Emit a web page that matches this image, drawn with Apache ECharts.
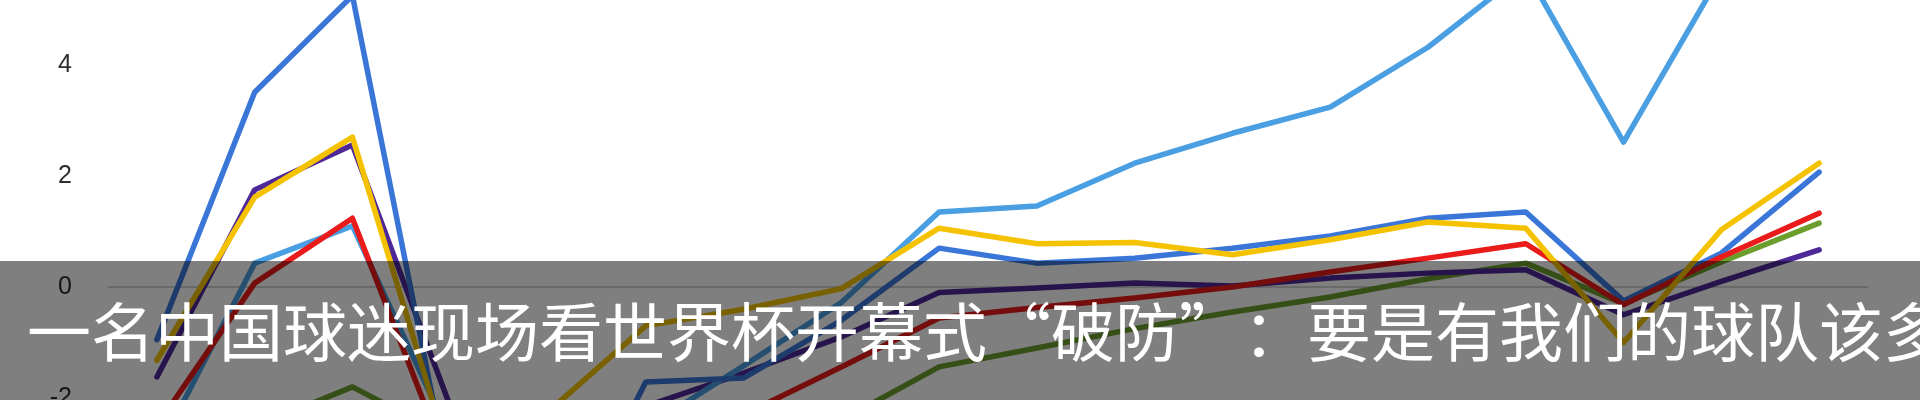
<!DOCTYPE html>
<html>
<head>
<meta charset="utf-8">
<script src="https://cdn.jsdelivr.net/npm/echarts@6/dist/echarts.min.js"></script>
<style>
html,body{margin:0;padding:0;background:#fff;}
#chart{width:1920px;height:400px;}
</style>
</head>
<body>
<div id="chart"></div>
<script>
const categories = ['1','2','3','4','5','6','7','8','9','10','11','12','13','14','15','16','17','18'];
const yTicks = [-6, -4, -2, 0, 2, 4, 6];

const royalBlue = [-0.95, 3.51, 5.25, -3.6, -5.2, -1.71, -1.64, -0.6, 0.70, 0.43, 0.52, 0.70, 0.92, 1.24, 1.35, -0.25, 0.61, 2.07];
const skyBlue   = [-3.0, 0.43, 1.1, -2.7, -3.0, -2.54, -1.42, -0.28, 1.35, 1.46, 2.23, 2.77, 3.24, 4.32, 5.7, 2.61, 5.65, 6.5];
const gold      = [-1.32, 1.62, 2.70, -3.1, -2.25, -0.7, -0.4, -0.03, 1.06, 0.78, 0.80, 0.58, 0.85, 1.17, 1.06, -1.0, 1.03, 2.23];
const red       = [-2.5, 0.07, 1.24, -3.3, -3.3, -2.8, -2.3, -1.44, -0.56, -0.37, -0.2, 0.0, 0.27, 0.52, 0.78, -0.32, 0.54, 1.33];
const green     = [-3.4, -2.52, -1.8, -2.72, -3.3, -3.2, -2.9, -2.4, -1.44, -1.1, -0.75, -0.45, -0.18, 0.15, 0.43, -0.3, 0.45, 1.15];
const purple    = [-1.62, 1.75, 2.56, -2.15, -2.6, -2.15, -1.55, -0.9, -0.1, -0.02, 0.07, 0.02, 0.16, 0.25, 0.31, -0.5, 0.1, 0.67];

const caption = '一名中国球迷现场看世界杯开幕式“破防”：要是有我们的球队该多好';

function mk(name, data, color) {
  return {
    name: name, type: 'line', data: data, symbol: 'none',
    lineStyle: { color: color, width: 5.5, join: 'round', cap: 'round' },
    itemStyle: { color: color }
  };
}

const chart = echarts.init(document.getElementById('chart'), null, { renderer: 'canvas' });
chart.setOption({
  backgroundColor: '#ffffff',
  animation: false,
  grid: { left: 108, right: 52, top: -46, bottom: -220, containLabel: false, outerBoundsMode: 'none' },
  xAxis: {
    type: 'category', data: categories, boundaryGap: true,
    axisLine: { onZero: true, lineStyle: { color: '#c4c4c4', width: 1.5 } },
    axisTick: { show: false }, axisLabel: { show: false }, splitLine: { show: false }
  },
  yAxis: {
    type: 'value', min: yTicks[0], max: yTicks[yTicks.length - 1], interval: 2,
    axisLine: { show: false }, axisTick: { show: false }, splitLine: { show: false },
    axisLabel: { color: '#2e2e2e', fontSize: 25, fontFamily: 'Liberation Sans, Arial, sans-serif', margin: 36 }
  },
  series: [
    mk('green', green, '#6b9e2c'),
    mk('purple', purple, '#4f2898'),
    mk('skyBlue', skyBlue, '#4a9fe3'),
    mk('royalBlue', royalBlue, '#3a76d8'),
    mk('red', red, '#ea1b1b'),
    mk('gold', gold, '#f5c200')
  ],
  graphic: [
    { type: 'rect', z: 100, shape: { x: 0, y: 261, width: 1920, height: 139 }, style: { fill: 'rgba(0,0,0,0.5)' } },
    { type: 'text', z: 101, x: 27, y: 332, style: { text: caption, fill: '#ffffff', fontSize: 64, fontFamily: '"Noto Sans CJK SC", sans-serif', verticalAlign: 'middle', align: 'left' } }
  ]
});
</script>
</body>
</html>
